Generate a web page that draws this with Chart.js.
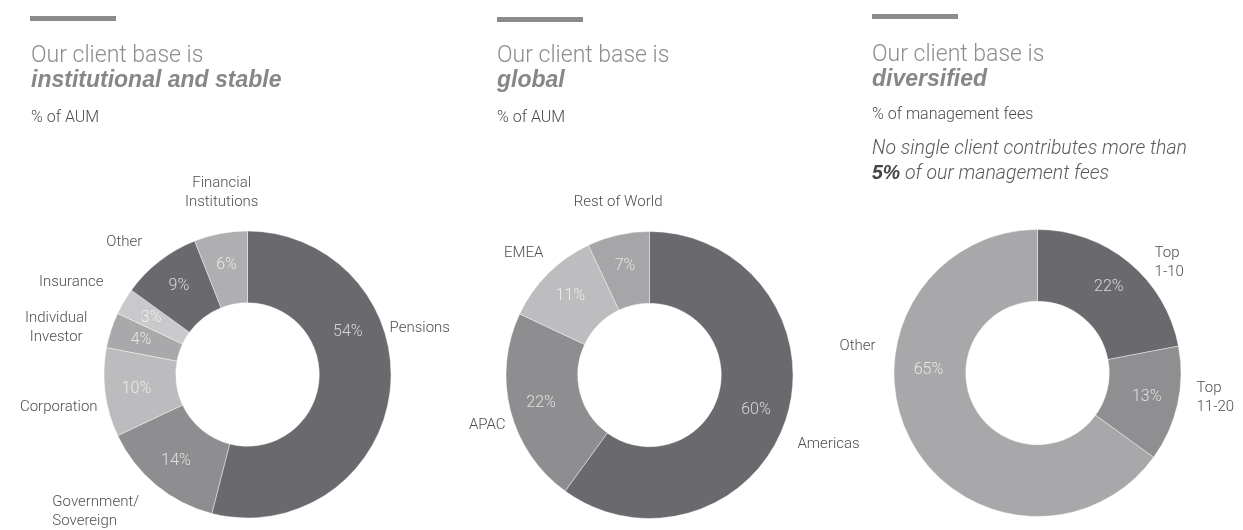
<!DOCTYPE html>
<html lang="en">
<head>
  <meta charset="UTF-8" />
  <title>Client base</title>
  <style>
    body {
      margin: 0;
      width: 1243px;
      height: 530px;
      background: #fff;
      position: relative;
      overflow: hidden;
      font-family: Roboto, "Liberation Sans", sans-serif;
    }
    canvas { position: absolute; left: 0; top: 0; }
    .bar { position: absolute; width: 86px; height: 5px; background: #8b8b8d; }
    .t1 { position: absolute; font-size: 23px; font-weight: 300; color: #8d8d8f; white-space: nowrap; line-height: 1; }
    .t2 { position: absolute; font-family: "Liberation Sans", sans-serif; font-size: 23px; font-weight: bold; font-style: italic; color: #87878a; white-space: nowrap; line-height: 1; }
    .sub { position: absolute; font-size: 16px; font-weight: 300; color: #4d4d4f; white-space: nowrap; line-height: 1; }
    .note { position: absolute; font-size: 19.5px; font-weight: 300; font-style: italic; color: #5a5a5c; white-space: nowrap; line-height: 25px; }
    .note b { font-family: "Liberation Sans", sans-serif; font-weight: bold; color: #444; }
  </style>
</head>
<body>
  <canvas id="c1" width="1243" height="530"></canvas>
  <canvas id="c2" width="1243" height="530"></canvas>
  <canvas id="c3" width="1243" height="530"></canvas>

  <div class="bar" style="left:30px;top:16px"></div>
  <div class="t1" style="left:31px;top:43px">Our client base is</div>
  <div class="t2" style="left:31px;top:68px">institutional and stable</div>
  <div class="sub" style="left:31px;top:109px">% of AUM</div>

  <div class="bar" style="left:497px;top:17px"></div>
  <div class="t1" style="left:497px;top:43px">Our client base is</div>
  <div class="t2" style="left:497px;top:68px">global</div>
  <div class="sub" style="left:497px;top:109px">% of AUM</div>

  <div class="bar" style="left:872px;top:14px"></div>
  <div class="t1" style="left:872px;top:42px">Our client base is</div>
  <div class="t2" style="left:872px;top:67px">diversified</div>
  <div class="sub" style="left:872px;top:106px">% of management fees</div>
  <div class="note" style="left:872px;top:135px">No single client contributes more than<br><b>5%</b> of our management fees</div>

  <script src="https://cdn.jsdelivr.net/npm/chart.js"></script>
  <script>
    // client type, % of AUM
    const typeLabels = ['Pensions', ['Government/', 'Sovereign'], 'Corporation', ['Individual', 'Investor'], 'Insurance', 'Other', ['Financial', 'Institutions']];
    const typeValues = [54, 14, 10, 4, 3, 9, 6];
    const typeColors = ['#6a6a6e', '#8e8e91', '#bcbcbe', '#a9a9ab', '#c9c9cb', '#6a6a6e', '#afafb1'];

    // region, % of AUM
    const regionLabels = ['Americas', 'APAC', 'EMEA', 'Rest of World'];
    const regionValues = [60, 22, 11, 7];
    const regionColors = ['#6a6a6e', '#8e8e91', '#bdbdbf', '#a6a6a8'];

    // client concentration, % of management fees
    const topLabels = [['Top', '1-10'], ['Top', '11-20'], 'Other'];
    const topValues = [22, 13, 65];
    const topColors = ['#6a6a6e', '#8f8f92', '#a8a8aa'];

    // where the category names sit, as [dx, dy, align] in outer radii from the centre
    const typePlace = [[0.99, -0.32, 'left'], [-1.36, 0.89, 'left'], [-1.045, 0.226, 'right'], [-1.333, -0.392, 'center'], [-1.003, -0.642, 'right'], [-0.733, -0.92, 'right'], [-0.18, -1.33, 'center']];
    const regionPlace = [[1.031, 0.486, 'left'], [-1.003, 0.347, 'right'], [-0.74, -0.847, 'right'], [-0.219, -1.201, 'center']];
    const topPlace = [[0.816, -0.833, 'left'], [1.108, 0.104, 'left'], [-1.128, -0.1875, 'right']];

    // percent labels: angle override in degrees (null = middle of the slice)
    const typePctAngle = [-23, null, null, null, null, null, null];
    const regionPctAngle = [null, null, null, null];
    const topPctAngle = [null, null, 181.7];

    const sliceLabels = {
      id: 'sliceLabels',
      afterDatasetsDraw(chart, args, opts) {
        const ctx = chart.ctx;
        const arcs = chart.getDatasetMeta(0).data;
        const values = chart.data.datasets[0].data;
        const cx = arcs[0].x, cy = arcs[0].y;
        const R = arcs[0].outerRadius, r = arcs[0].innerRadius;
        ctx.save();
        ctx.textBaseline = 'middle';

        // values inside the ring
        ctx.font = '300 16px Roboto, "Liberation Sans", sans-serif';
        ctx.fillStyle = 'rgba(255,255,255,0.72)';
        ctx.textAlign = 'center';
        arcs.forEach((a, i) => {
          const over = opts.pctAngle[i];
          const ang = over != null ? over * Math.PI / 180 : (a.startAngle + a.endAngle) / 2;
          const rad = over != null ? R * 0.76 : (R + r) / 2 + R * 0.03;
          ctx.fillText(values[i] + '%', cx + Math.cos(ang) * rad, cy + Math.sin(ang) * rad);
        });

        // category names around the ring
        ctx.font = '300 15px Roboto, "Liberation Sans", sans-serif';
        ctx.fillStyle = '#4f4f51';
        chart.data.labels.forEach((lab, i) => {
          const [dx, dy, align] = opts.place[i];
          const lines = Array.isArray(lab) ? lab : [lab];
          ctx.textAlign = align;
          lines.forEach((ln, k) => {
            ctx.fillText(ln, cx + dx * R, cy + dy * R + k * 19);
          });
        });
        ctx.restore();
      }
    };

    function makeDonut(id, labels, values, colors, pad, place, pctAngle) {
      new Chart(document.getElementById(id), {
        type: 'doughnut',
        data: {
          labels: labels,
          datasets: [{
            data: values,
            backgroundColor: colors,
            borderColor: 'rgba(255,255,255,0.4)',
            borderWidth: 1
          }]
        },
        options: {
          responsive: false,
          animation: false,
          cutout: '50%',
          layout: { padding: pad },
          plugins: {
            legend: { display: false },
            tooltip: { enabled: false },
            sliceLabels: { place: place, pctAngle: pctAngle }
          }
        },
        plugins: [sliceLabels]
      });
    }

    // every canvas spans the page; padding puts each ring in its own column
    makeDonut('c1', typeLabels, typeValues, typeColors,
      { left: 103.5, right: 851.5, top: 230.5, bottom: 11.5 }, typePlace, typePctAngle);
    makeDonut('c2', regionLabels, regionValues, regionColors,
      { left: 505.5, right: 449.5, top: 231, bottom: 11 }, regionPlace, regionPctAngle);
    makeDonut('c3', topLabels, topValues, topColors,
      { left: 893.5, right: 61.5, top: 229, bottom: 13 }, topPlace, topPctAngle);
  </script>
</body>
</html>
